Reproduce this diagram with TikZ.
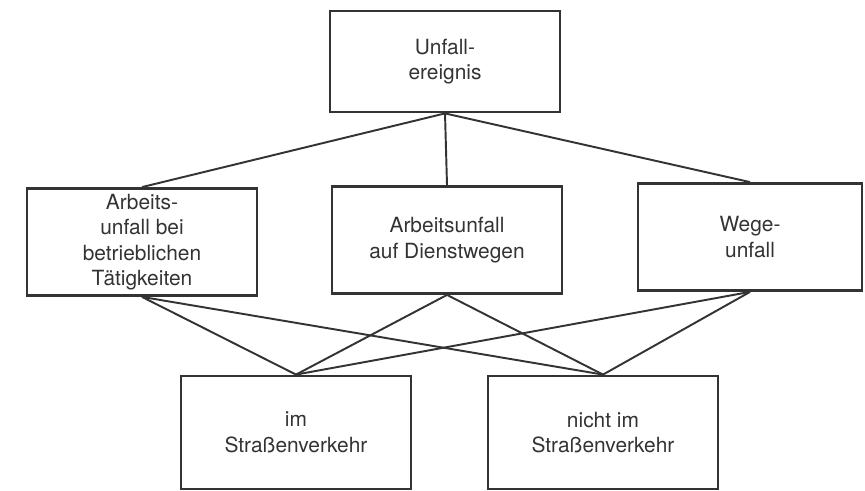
\documentclass[tikz,border=0pt]{standalone}
\usepackage{fontspec}
\setmainfont{TeX Gyre Heros}
\usepackage{xcolor}
\usepackage{tikz}
\definecolor{ink}{HTML}{333333}

\begin{document}
\begin{tikzpicture}[
    box/.style={draw=ink, line width=1.6pt, minimum width=4.6cm,
        minimum height=2.14cm, inner sep=1pt, align=center, text=ink,
        font=\fontsize{11.9}{14.5}\selectfont},
    link/.style={draw=ink, line width=1.1pt}]
    \useasboundingbox (0,0) rectangle (17.3,9.82);
    \node[box, minimum height=2.02cm] (unfall) at (8.9,8.59) {Unfall-\\ereignis};
    \node[box] (betrieb) at (2.84,4.98)
        {Arbeits-\\unfall bei\\betrieblichen\\Tätigkeiten};
    \node[box] (dienst) at (8.94,5.02) {Arbeitsunfall\\auf Dienstwegen};
    \node[box, minimum width=4.48cm] (wege) at (15.0,5.08) {Wege-\\unfall};
    \node[box, minimum height=2.26cm] (strasse) at (5.92,1.17)
        {im\\Straßenverkehr};
    \node[box, minimum height=2.26cm] (nstrasse) at (12.06,1.17)
        {nicht im\\Straßenverkehr};
    \draw[link] (unfall.south) -- (betrieb.north);
    \draw[link] (unfall.south) -- (dienst.north);
    \draw[link] (unfall.south) -- (wege.north);
    \foreach \art in {betrieb, dienst, wege} {
        \draw[link] (\art.south) -- (strasse.north);
        \draw[link] (\art.south) -- (nstrasse.north);
    }
\end{tikzpicture}
\end{document}
